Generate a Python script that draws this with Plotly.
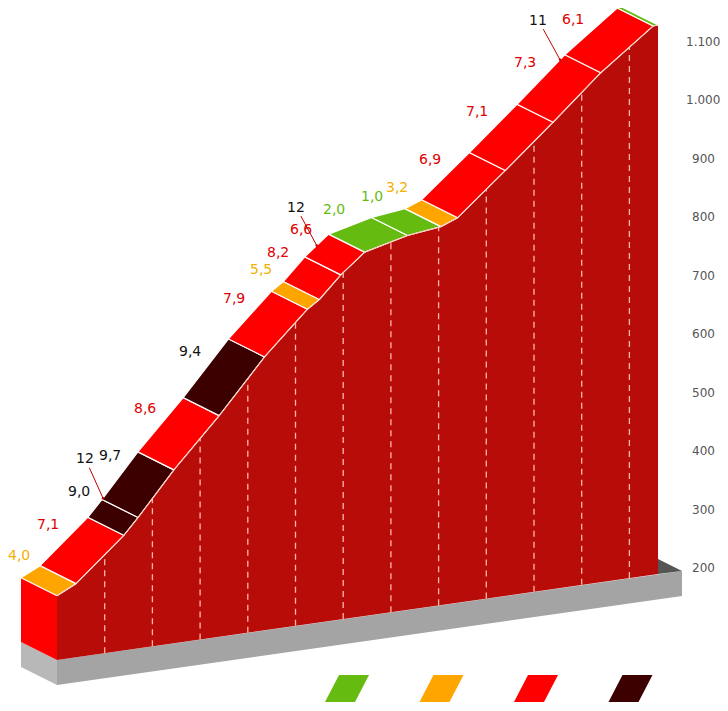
import plotly.graph_objects as go

# climb segments: length (km) and gradient (%)
seg_len = [0.4, 1.0, 0.3, 0.75, 0.95, 0.95, 0.9, 0.25, 0.45, 0.5, 0.9, 0.7, 0.35, 1.0, 1.0, 1.0, 1.1, 0.1]
seg_grad = [4.0, 7.1, 9.0, 9.7, 8.6, 9.4, 7.9, 5.5, 8.2, 6.6, 2.0, 1.0, 3.2, 6.9, 7.1, 7.3, 6.1, 0.5]
seg_label = ["4,0", "7,1", "9,0", "9,7", "8,6", "9,4", "7,9", "5,5", "8,2", "6,6", "2,0", "1,0", "3,2", "6,9", "7,1", "7,3", "6,1", ""]
start_alt = 300
base_alt = 190
alt_ticks = [200, 300, 400, 500, 600, 700, 800, 900, 1000, 1100]
alt_tick_text = ["200", "300", "400", "500", "600", "700", "800", "900", "1.000", "1.100"]
# max gradient callouts: (km, text, label offset)
max_marks = [(1.72, "12", (-18, -40)), (6.2, "12", (-21, -39)), (11.3, "11", (-22, -40))]
# label nudges away from the default position
label_nudge = {0: (4, 0), 3: (6, -4), 16: (-2, 5)}

GREEN, ORANGE, RED, DARK = "#66bb10", "#ffa500", "#ff0000", "#3d0000"
LABEL_COL = {GREEN: "#66bb10", ORANGE: "#f2b000", RED: "#e00000", DARK: "#111111"}


def colour(g):
    if g < 3:
        return GREEN
    if g < 6:
        return ORANGE
    if g < 9:
        return RED
    return DARK


# oblique projection into page pixels
KX, SLOPE, KY = 47.7, 6.83, 0.5844
X0, Y0 = 57, 660
DX, DY = -36, -18


def proj(km, alt, depth=0.0):
    return (X0 + KX * km + DX * depth,
            Y0 - SLOPE * km - (alt - base_alt) * KY + DY * depth)


def alt_at(km):
    a, k = start_alt, 0.0
    for L, g in zip(seg_len, seg_grad):
        if km <= k + L:
            return a + (km - k) * g * 10
        a += L * g * 10
        k += L
    return a


kms = [0.0]
alts = [start_alt]
for L, g in zip(seg_len, seg_grad):
    kms.append(kms[-1] + L)
    alts.append(alts[-1] + L * g * 10)
total = kms[-1]

fig = go.Figure()


def poly(pts, fill, line_col=None, width=0):
    xs = [p[0] for p in pts] + [pts[0][0]]
    ys = [p[1] for p in pts] + [pts[0][1]]
    fig.add_trace(go.Scatter(x=xs, y=ys, fill="toself", fillcolor=fill, mode="lines",
                             line=dict(color=line_col or fill, width=width),
                             hoverinfo="skip", showlegend=False))


# grey base slab
b0 = proj(0, base_alt)
b1 = proj(total, base_alt)
ext = (b1[0] + 24, b1[1] - 3)
bs = proj(0, base_alt, 1)
poly([bs, b0, (b0[0], b0[1] + 25), (bs[0], bs[1] + 25)], "#b8b8b8")
poly([b0, ext, (ext[0], ext[1] + 25), (b0[0], b0[1] + 25)], "#a4a4a4")
poly([b1, (b1[0], b1[1] - 15), ext], "#555555")

# side face at start
poly([proj(0, start_alt), proj(0, start_alt, 1), proj(0, base_alt, 1), proj(0, base_alt)], RED)

# front face
front = [proj(k, a) for k, a in zip(kms, alts)]
poly(front + [proj(total, base_alt), proj(0, base_alt)], "#b80c08")

# km dashes
for km in range(1, int(total) + 1):
    p0 = proj(km, base_alt)
    p1 = proj(km, alt_at(km))
    fig.add_trace(go.Scatter(x=[p0[0], p1[0]], y=[p0[1], p1[1]], mode="lines",
                             line=dict(color="#ffb8a8", width=1.3, dash="6px,5px"),
                             hoverinfo="skip", showlegend=False))

# top ribbon
for i in range(len(seg_len)):
    pts = [proj(kms[i], alts[i]), proj(kms[i + 1], alts[i + 1]),
           proj(kms[i + 1], alts[i + 1], 1), proj(kms[i], alts[i], 1)]
    poly(pts, colour(seg_grad[i]), "white", 1.2)

fig.add_trace(go.Scatter(x=[p[0] for p in front], y=[p[1] for p in front], mode="lines",
                         line=dict(color="#ffc8b8", width=1), hoverinfo="skip", showlegend=False))

# gradient labels
for i, t in enumerate(seg_label):
    if not t:
        continue
    km = (kms[i] + kms[i + 1]) / 2
    x, y = proj(km, alt_at(km), 1)
    nx, ny = label_nudge.get(i, (0, 0))
    fig.add_annotation(x=x - 16 + nx, y=y - 17 + ny, text=t, showarrow=False,
                       font=dict(size=14, color=LABEL_COL[colour(seg_grad[i])]))

# max gradient callouts
for km, t, (ox, oy) in max_marks:
    x, y = proj(km, alt_at(km), 1)
    fig.add_annotation(x=x, y=y, ax=ox, ay=oy, text=t, showarrow=True,
                       arrowhead=6, arrowsize=0.6, arrowwidth=1, arrowcolor="#c00000",
                       font=dict(size=14, color="#111111"))

# altitude scale
for v, t in zip(alt_ticks, alt_tick_text):
    fig.add_annotation(x=703, y=568 - (v - 200) * KY, text=t, showarrow=False,
                       font=dict(size=12, color="#555555"))

# legend swatches
for i, c in enumerate([GREEN, ORANGE, RED, DARK]):
    x = 325 + 94.5 * i
    poly([(x, 702), (x + 30, 702), (x + 44, 675), (x + 14, 675)], c)

# page body has an 8px margin: axes map straight onto page pixels
fig.update_layout(
    width=720, height=703, margin=dict(l=0, r=0, t=0, b=0),
    plot_bgcolor="white", paper_bgcolor="white",
    font=dict(family="DejaVu Sans"),
    xaxis=dict(range=[8, 728], visible=False, fixedrange=True),
    yaxis=dict(range=[711, 8], visible=False, fixedrange=True),
)
fig.write_html("out.html")
